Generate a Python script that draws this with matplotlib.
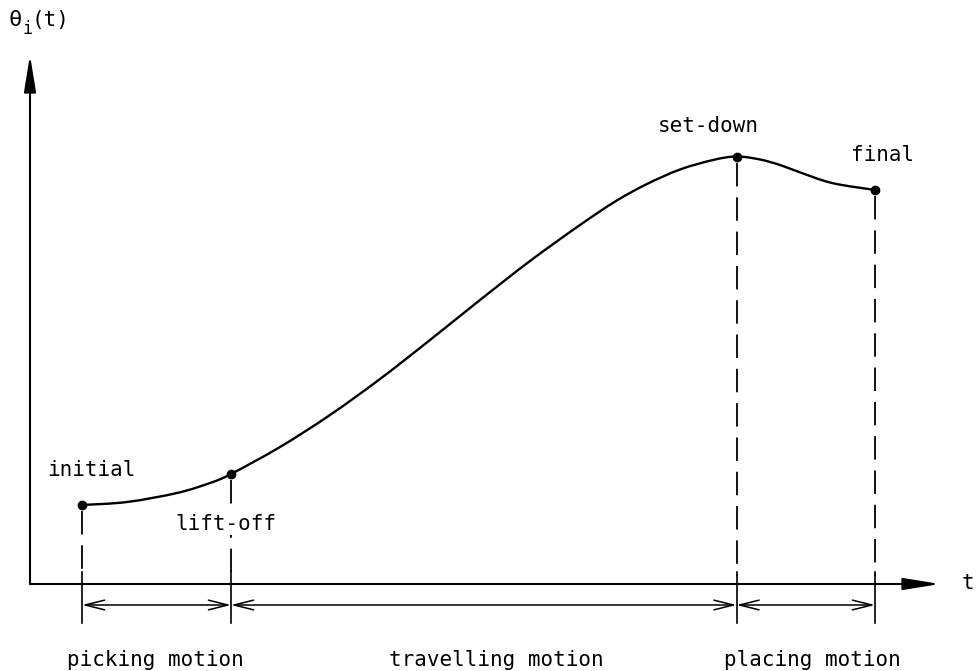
import matplotlib
matplotlib.use("Agg")
import matplotlib.pyplot as plt
from matplotlib.path import Path
from matplotlib.patches import PathPatch

# ---- data (t, theta) ----
event_names = ["initial", "lift-off", "set-down", "final"]
event_t = [52, 201, 706.5, 845]
event_theta = [79, 110, 427.5, 394]

curve_t = [52, 97, 147, 180, 201, 250, 300, 350, 400, 450, 500, 550,
           586, 617, 650, 683, 706.5, 730, 750, 769, 802, 845]
curve_theta = [79, 82, 91, 101, 110, 137, 169, 205, 244, 284, 323, 359,
               383, 400, 414.5, 424, 427.5, 424.5, 419, 412, 401, 394]

phase_names = ["picking motion", "travelling motion", "placing motion"]

FONT = "DejaVu Sans Mono"
FS = 15

fig = plt.figure(figsize=(9.78, 6.71), dpi=100)
ax = fig.add_axes([0, 0, 1, 1])
ax.set_xlim(-30, 948)
ax.set_ylim(-87, 584)
ax.axis("off")

# axes with arrows
for tip in [(0, 529), (910, 0)]:
    ax.annotate("", xy=tip, xytext=(0, 0),
                arrowprops=dict(arrowstyle="-|>,head_length=1.6,head_width=0.26",
                                lw=1.5, color="black", shrinkA=0, shrinkB=0,
                                mutation_scale=14))

# smooth curve through the read points (Catmull-Rom rendered as cubic Bezier)
pts = list(zip(curve_t, curve_theta))
verts = [pts[0]]
codes = [Path.MOVETO]
n = len(pts)
for i in range(n - 1):
    p0 = pts[i - 1] if i > 0 else pts[i]
    p1 = pts[i]
    p2 = pts[i + 1]
    p3 = pts[i + 2] if i + 2 < n else pts[i + 1]
    c1 = (p1[0] + (p2[0] - p0[0]) / 6.0, p1[1] + (p2[1] - p0[1]) / 6.0)
    c2 = (p2[0] - (p3[0] - p1[0]) / 6.0, p2[1] - (p3[1] - p1[1]) / 6.0)
    verts += [c1, c2, p2]
    codes += [Path.CURVE4] * 3
ax.add_patch(PathPatch(Path(verts, codes), facecolor="none", edgecolor="black",
                       lw=1.7, capstyle="round", joinstyle="round", zorder=3))
ax.plot(event_t, event_theta, "o", color="black", ms=6, zorder=4)

# dashed projections and solid ticks below axis
for t, th in zip(event_t, event_theta):
    ax.plot([t, t], [th - 6, 8], color="black", lw=1.3, dashes=(13, 6), zorder=1)
    ax.plot([t, t], [12, -39], color="black", lw=1.2, zorder=1)

# dimension arrows
for a, b in zip(event_t[:-1], event_t[1:]):
    ax.annotate("", xy=(b, -21), xytext=(a, -21),
                arrowprops=dict(arrowstyle="<->,head_length=1.4,head_width=0.35",
                                lw=1.1, color="black", shrinkA=0, shrinkB=0,
                                mutation_scale=10))

# event labels
label_pos = [(61, 114), (196, 60), (678, 458), (853, 429)]
for name, (x, y) in zip(event_names, label_pos):
    ax.text(x, y, name, ha="center", va="center", fontsize=FS, family=FONT,
            zorder=5, bbox=dict(facecolor="white", edgecolor="none", pad=1))

# axis labels
ax.text(-21, 564, "θ", ha="left", va="center", fontsize=FS + 1, family=FONT)
ax.text(-7, 555, "i", ha="left", va="center", fontsize=FS - 3, family=FONT)
ax.text(2, 564, "(t)", ha="left", va="center", fontsize=FS, family=FONT)
ax.text(938, 1, "t", ha="center", va="center", fontsize=FS, family=FONT)

# phase labels
phase_x = [125, 466, 782]
for name, x in zip(phase_names, phase_x):
    ax.text(x, -76, name, ha="center", va="center", fontsize=FS, family=FONT)

fig.savefig("out.png", dpi=100, facecolor="white")
